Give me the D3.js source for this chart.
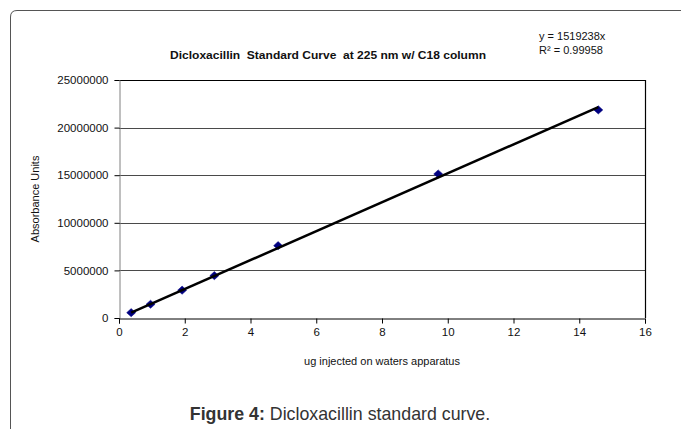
<!DOCTYPE html>
<html>
<head>
<meta charset="utf-8">
<script src="https://cdn.jsdelivr.net/npm/d3@7"></script>
<style>
  html, body { margin: 0; padding: 0; background: #fff; }
  svg { display: block; }
</style>
</head>
<body>
<svg id="chart" width="681" height="429"></svg>
<script>
const xValues = [0.37, 0.96, 1.92, 2.9, 4.84, 9.71, 14.58];
const yValues = [560000, 1440000, 2920000, 4450000, 7600000, 15130000, 21860000];
const slope = 1519238;
const xTicks = [0, 2, 4, 6, 8, 10, 12, 14, 16];
const yTicks = [0, 5000000, 10000000, 15000000, 20000000, 25000000];
const titleText = "Dicloxacillin  Standard Curve  at 225 nm w/ C18 column";
const xTitle = "ug injected on waters apparatus";
const yTitle = "Absorbance Units";
const eqText = "y = 1519238x";
const r2Text = "R² = 0.99958";

const svg = d3.select("#chart");
const font = "Liberation Sans, Arial, sans-serif";

// outer frame
svg.append("path")
  .attr("d", "M10.5,429 L10.5,17 Q10.5,10.5 17,10.5 L681,10.5")
  .attr("fill", "none").attr("stroke", "#555").attr("stroke-width", 1);

const x = d3.scaleLinear().domain([0, 16]).range([119, 645]);
const y = d3.scaleLinear().domain([0, 25000000]).range([318, 80]);

// gridlines
svg.append("g").selectAll("line").data(yTicks.filter(d => d > 0 && d < 25000000)).join("line")
  .attr("x1", x(0)).attr("x2", x(16))
  .attr("y1", d => Math.round(y(d)) + 0.5).attr("y2", d => Math.round(y(d)) + 0.5)
  .attr("stroke", "#4a4a4a").attr("stroke-width", 1);

// plot border top & right
svg.append("line").attr("x1", x(0)).attr("x2", x(16)+0.5)
  .attr("y1", Math.round(y(25000000)) + 0.5).attr("y2", Math.round(y(25000000)) + 0.5)
  .attr("stroke", "#000").attr("stroke-width", 1.2);
svg.append("line").attr("x1", Math.round(x(16)) + 0.5).attr("x2", Math.round(x(16)) + 0.5)
  .attr("y1", y(25000000)).attr("y2", y(0))
  .attr("stroke", "#000").attr("stroke-width", 1.2);

// y axis
const yAxis = svg.append("g")
  .attr("transform", `translate(${Math.round(x(0)) + 0.5},0)`)
  .call(d3.axisLeft(y).tickValues(yTicks).tickFormat(d3.format("d")).tickSize(5).tickPadding(6));
yAxis.attr("font-family", font).attr("font-size", 11.5);
yAxis.select(".domain").attr("stroke", "#808080");
yAxis.selectAll(".tick line").attr("stroke", "#000");
yAxis.selectAll("text").attr("fill", "#111");

// x axis
const xAxis = svg.append("g")
  .attr("transform", `translate(0,${Math.round(y(0)) + 0.5})`)
  .call(d3.axisBottom(x).tickValues(xTicks).tickFormat(d3.format("d")).tickSize(5).tickPadding(4));
xAxis.attr("font-family", font).attr("font-size", 11.5);
xAxis.select(".domain").attr("stroke", "#000");
xAxis.selectAll(".tick line").attr("stroke", "#000");
xAxis.selectAll("text").attr("fill", "#111");

// markers (squat diamond)
const squatDiamond = {
  draw(ctx, size) {
    const w = Math.sqrt(size) * 0.75, h = Math.sqrt(size) * 0.68;
    ctx.moveTo(0, -h); ctx.lineTo(w, 0); ctx.lineTo(0, h); ctx.lineTo(-w, 0); ctx.closePath();
  }
};
const diamond = d3.symbol().type(squatDiamond).size(36);
svg.append("g").selectAll("path").data(xValues.map((v, i) => [v, yValues[i]])).join("path")
  .attr("d", diamond)
  .attr("transform", d => `translate(${x(d[0])},${y(d[1])})`)
  .attr("fill", "#000080").attr("stroke", "#000080").attr("stroke-width", 0.5);

// trendline
const x0 = d3.min(xValues), x1 = d3.max(xValues);
svg.append("line")
  .attr("x1", x(x0)).attr("y1", y(slope * x0))
  .attr("x2", x(x1)).attr("y2", y(slope * x1))
  .attr("stroke", "#000").attr("stroke-width", 2.5);

// texts
svg.append("text").attr("x", 328).attr("y", 59).attr("text-anchor", "middle")
  .attr("font-family", font).attr("font-size", "11px").attr("font-weight", "bold")
  .attr("textLength", 316).attr("lengthAdjust", "spacingAndGlyphs")
  .attr("fill", "#111").style("white-space", "pre").text(titleText);

svg.append("text").attr("x", 539).attr("y", 40)
  .attr("font-family", font).attr("font-size", "11px").attr("fill", "#111").text(eqText);
svg.append("text").attr("x", 539).attr("y", 54)
  .attr("font-family", font).attr("font-size", "11px").attr("fill", "#111").text(r2Text);

svg.append("text").attr("x", 382).attr("y", 365).attr("text-anchor", "middle")
  .attr("font-family", font).attr("font-size", "11px").attr("fill", "#111").text(xTitle);

svg.append("text").attr("transform", "translate(39,199) rotate(-90)").attr("text-anchor", "middle")
  .attr("font-family", font).attr("font-size", "11px").attr("fill", "#111").text(yTitle);

const cap = svg.append("text").attr("x", 340).attr("y", 420).attr("text-anchor", "middle")
  .attr("font-family", font).attr("font-size", "17.8px").attr("fill", "#333");
cap.append("tspan").attr("font-weight", "bold").text("Figure 4:");
cap.append("tspan").text(" Dicloxacillin standard curve.");
</script>
</body>
</html>
